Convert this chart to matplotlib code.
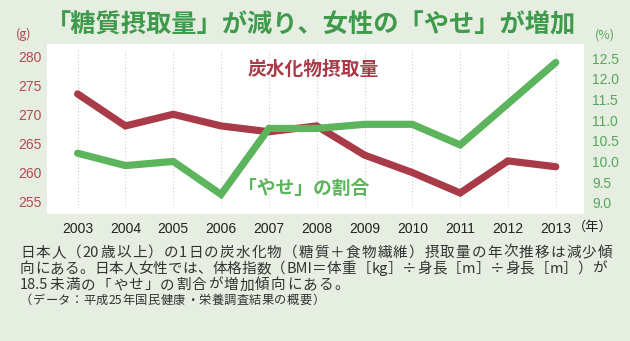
import matplotlib
matplotlib.use("Agg")
import matplotlib.pyplot as plt

plt.rcParams['font.family'] = ['Noto Sans CJK JP', 'DejaVu Sans']

years = [2003, 2004, 2005, 2006, 2007, 2008, 2009, 2010, 2011, 2012, 2013]
carb_g = [273.5, 268.0, 270.0, 268.0, 267.0, 268.0, 263.0, 260.0, 256.5, 262.0, 261.0]
thin_pct = [10.2, 9.9, 10.0, 9.2, 10.8, 10.8, 10.9, 10.9, 10.4, 11.4, 12.4]
left_ticks = [255, 260, 265, 270, 275, 280]
right_ticks = [9.0, 9.5, 10.0, 10.5, 11.0, 11.5, 12.0, 12.5]

caption = [
    '日本人（20歳以上）の1日の炭水化物（糖質＋食物繊維）摂取量の年次推移は減少傾',
    '向にある。日本人女性では、体格指数（BMI＝体重［kg］÷身長［m］÷身長［m］）が',
    '18.5未満の「やせ」の割合が増加傾向にある。',
]
source = '（データ：平成25年国民健康・栄養調査結果の概要）'

bg = '#e5eee1'
red = '#a83b47'
green = '#5cb45c'
title_green = '#3f9a4c'
tick_red = '#b24a52'
tick_green = '#58a65a'
text_gray = '#333333'
num_font = ['Liberation Sans', 'DejaVu Sans']

W, H = 630, 341
fig = plt.figure(figsize=(W / 100, H / 100), dpi=100, facecolor=bg)
ax = fig.add_axes([47 / W, 1 - 214 / H, 537 / W, 170 / H])
ax.set_facecolor('white')
ax2 = ax.twinx()

for y in years:
    ax.axvline(y, ymin=0.053, ymax=0.965, color='#cccccc', lw=0.8,
               ls=(0, (1, 2)), zorder=0)

ax.plot(years, carb_g, color=red, lw=5.2, solid_capstyle='round',
        solid_joinstyle='miter', zorder=3)
ax2.plot(years, thin_pct, color=green, lw=5.2, solid_capstyle='round',
         solid_joinstyle='miter', zorder=3)

ax.set_xlim(2002.36, 2013.59)
ax.set_ylim(252.89, 282.06)
ax2.set_ylim(8.726, 12.847)

ax.set_xticks(years)
ax.set_xticklabels([str(y) for y in years], family=num_font, fontsize=10,
                   color='#222222')
ax.set_yticks(left_ticks)
ax.set_yticklabels([str(v) for v in left_ticks], family=num_font,
                   fontsize=10, color=tick_red)
ax2.set_yticks(right_ticks)
ax2.set_yticklabels([f'{v:.1f}' for v in right_ticks], family=num_font,
                    fontsize=10, color=tick_green)

ax.tick_params(axis='both', length=0)
ax.tick_params(axis='y', pad=4)
ax.tick_params(axis='x', pad=6)
ax2.tick_params(axis='y', length=0, pad=6)
for a in (ax, ax2):
    for s in a.spines.values():
        s.set_visible(False)

# series labels inside the plot
ax.text(2006.55, 277.8, '炭水化物摂取量', color=red, fontsize=13.5,
        ha='left', va='center', weight='bold')
ax2.text(2006.35, 9.35, '「やせ」の割合', color=green, fontsize=13.5,
         ha='left', va='center', weight='bold')

fig.text(46 / W, 1 - 25 / H, '「糖質摂取量」が減り、女性の「やせ」が増加',
         color=title_green, fontsize=18.2, weight='bold', ha='left',
         va='center')
fig.text(24 / W, 1 - 34 / H, '(g)', color=tick_red, fontsize=9,
         ha='center', va='center')
fig.text(605 / W, 1 - 35 / H, '(%)', color=tick_green, fontsize=9,
         ha='center', va='center')
fig.text(573 / W, 1 - 227 / H, '（年）', color='#222222', fontsize=9.5,
         ha='left', va='center')


def tokens(s):
    # ASCII runs stay together, every other character stands alone
    out, buf = [], ''
    for ch in s:
        if ord(ch) < 128:
            buf += ch
        else:
            if buf:
                out.append(buf)
                buf = ''
            out.append(ch)
    if buf:
        out.append(buf)
    return out


renderer = fig.canvas.get_renderer()


def set_line(x0, yc, s, size, right=None, gap=0.0):
    parts = [fig.text(0, 1 - yc / H, t, color=text_gray, fontsize=size,
                      ha='left', va='center') for t in tokens(s)]
    widths = [p.get_window_extent(renderer).width for p in parts]
    if right is not None and len(parts) > 1:
        gap = (right - x0 - sum(widths)) / (len(parts) - 1)
    x = x0
    for p, w in zip(parts, widths):
        p.set_x(x / W)
        x += w + gap


set_line(20, 252.7, caption[0], 10.5, right=612)
set_line(20, 269.0, caption[1], 10.5, right=607)
set_line(20, 285.3, caption[2], 10.5, gap=1.2)
set_line(20, 300.7, source, 8.8, gap=0.4)

fig.savefig('out.png', dpi=100, facecolor=bg)
